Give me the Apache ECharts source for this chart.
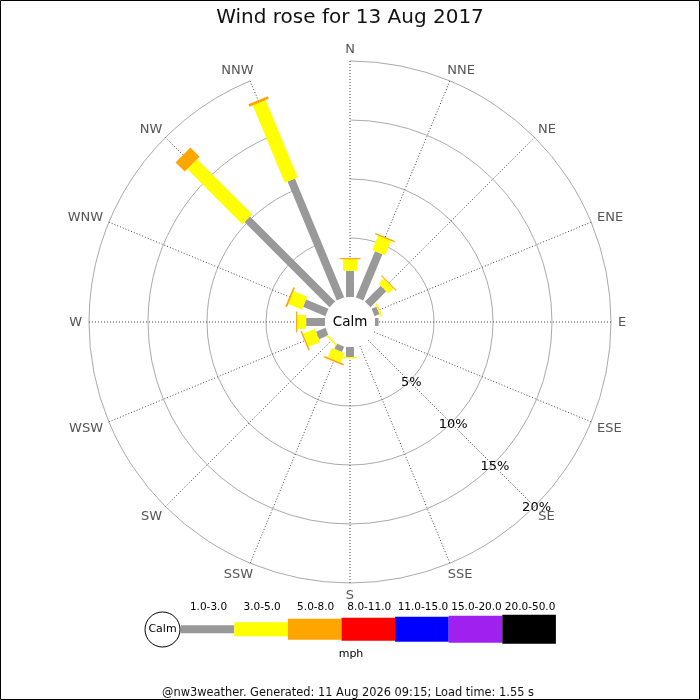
<!DOCTYPE html>
<html><head><meta charset="utf-8">
<script src="https://cdn.jsdelivr.net/npm/echarts@6/dist/echarts.min.js"></script>
<style>html,body{margin:0;padding:0;background:#fff}#c{width:700px;height:700px}</style>
</head><body><div id="c"></div>
<script>
// ---- data ----
const directions = ['N','NNE','NE','ENE','E','ESE','SE','SSE','S','SSW','SW','WSW','W','WNW','NW','NNW'];
const speedBins = ['1.0-3.0','3.0-5.0','5.0-8.0','8.0-11.0','11.0-15.0','15.0-20.0','20.0-50.0'];
// percentage of time per direction, per speed bin (mph)
const pct1to3 = [2.23, 4.24, 1.90, 0.45, 0.30, 0, 0, 0, 0.85, 0.50, 0, 0.86, 1.60, 2.05, 10.20, 10.90];
const pct3to5 = [0.97, 1.33, 0.60, 0.15, 0, 0, 0, 0, 0.12, 0.86, 0.15, 1.08, 0.75, 1.25, 6.60, 7.10];
const pct5to8 = [0.10, 0.10, 0.08, 0, 0, 0, 0, 0, 0, 0.15, 0, 0.12, 0.10, 0.15, 1.10, 0.22];
const ringTicks = [5, 10, 15, 20];
const ringLabels = ['5%', '10%', '15%', '20%'];
const titleText = 'Wind rose for 13 Aug 2017';
const footerText = '@nw3weather. Generated: 11 Aug 2026 09:15; Load time: 1.55 s';
const unitText = 'mph';
const calmText = 'Calm';

// ---- styles ----
const binColors = ['#999999', '#ffff00', '#ffa500', '#ff0000', '#0000ff', '#a020f0', '#000000'];
const binWidths = [8, 14, 21, 23, 25, 27, 29];
const FONT = '"DejaVu Sans", "Noto Sans", sans-serif';
const CX = 350, CY = 322;
const RMAX = 20;

const seriesValues = [pct1to3, pct3to5, pct5to8];

const measureCtx = document.createElement('canvas').getContext('2d');
function textWidth(t, font) { measureCtx.font = font; return measureCtx.measureText(t).width; }

// build stacked [dirIndex, start, end] rows
const cum = directions.map(() => 0);
const barSeries = seriesValues.map((vals, k) => {
  const rows = vals.map((v, i) => {
    const row = [i, cum[i], cum[i] + v];
    cum[i] += v;
    return row;
  });
  return {
    type: 'custom',
    name: speedBins[k],
    coordinateSystem: 'polar',
    data: rows,
    encode: { angle: 0, radius: 2 },
    z: 3 + k,
    renderItem: (params, api) => {
      const di = api.value(0), a = api.value(1), b = api.value(2);
      if (!(b > a)) return null;
      const p0 = api.coord([a, di]), p1 = api.coord([b, di]);
      const q0 = api.coord([0, di]), q1 = api.coord([RMAX, di]);
      const L = Math.hypot(q1[0] - q0[0], q1[1] - q0[1]);
      const ux = (q1[0] - q0[0]) / L, uy = (q1[1] - q0[1]) / L;
      const h = binWidths[k] / 2, nx = -uy * h, ny = ux * h;
      return {
        type: 'polygon',
        shape: { points: [[p0[0] + nx, p0[1] + ny], [p1[0] + nx, p1[1] + ny], [p1[0] - nx, p1[1] - ny], [p0[0] - nx, p0[1] - ny]] },
        style: { fill: binColors[k] }
      };
    }
  };
});

// direction labels placed outside the outer ring
const DIR_FONT = '13px ' + FONT;
const sgn = v => (Math.abs(v) < 1e-6 ? 0 : Math.sign(v));
const dirLabelSeries = {
  type: 'custom',
  coordinateSystem: 'polar',
  data: directions.map((d, i) => [i, RMAX]),
  encode: { angle: 0, radius: 1 },
  z: 9,
  renderItem: (params, api) => {
    const di = api.value(0);
    const q0 = api.coord([0, di]), q1 = api.coord([api.value(1), di]);
    const L = Math.hypot(q1[0] - q0[0], q1[1] - q0[1]);
    const ux = (q1[0] - q0[0]) / L, uy = (q1[1] - q0[1]) / L;
    const t = directions[params.dataIndex];
    const w = textWidth(t, DIR_FONT), h = 9.4, m = 7;
    const x = q1[0] + ux * m + sgn(ux) * Math.sqrt(Math.abs(ux)) * w / 2;
    const y = q1[1] + uy * m + sgn(uy) * Math.sqrt(Math.abs(uy)) * h / 2 + 0.8;
    return {
      type: 'text', x: x, y: y,
      style: { text: t, fill: '#555', font: DIR_FONT, align: 'center', verticalAlign: 'middle' }
    };
  }
};

const seIdx = directions.indexOf('SE');
const ringLabelSeries = {
  type: 'custom',
  coordinateSystem: 'polar',
  data: ringTicks.map(v => [seIdx, v]),
  encode: { angle: 0, radius: 1 },
  z: 10,
  renderItem: (params, api) => {
    const p = api.coord([api.value(1), api.value(0)]);
    return {
      type: 'text', x: p[0] + 2, y: p[1] + 1.5,
      style: { text: ringLabels[params.dataIndex], fill: '#000', font: '13px ' + FONT, align: 'center', verticalAlign: 'middle' }
    };
  }
};

// legend graphics
const legendEls = [];
const segW = 53.6, legendX0 = 180.7, legendCy = 629.3;
speedBins.forEach((lab, i) => {
  const x = legendX0 + i * segW, h = binWidths[i];
  legendEls.push({ type: 'rect', shape: { x: x, y: legendCy - h / 2, width: segW, height: h }, style: { fill: binColors[i] } });
  legendEls.push({ type: 'text', x: x + segW / 2 + 1, y: 607, style: { text: lab, font: '10.5px ' + FONT, fill: '#000', align: 'center', verticalAlign: 'middle' } });
});
legendEls.push({ type: 'circle', shape: { cx: 162.5, cy: 629.5, r: 17.5 }, style: { fill: '#fff', stroke: '#000', lineWidth: 1 } });
legendEls.push({ type: 'text', x: 162.5, y: 629.5, style: { text: calmText, font: '11px ' + FONT, fill: '#000', align: 'center', verticalAlign: 'middle' } });
legendEls.push({ type: 'text', x: 351, y: 654, style: { text: unitText, font: '11px ' + FONT, fill: '#000', align: 'center', verticalAlign: 'middle' } });

const chart = echarts.init(document.getElementById('c'), null, { renderer: 'canvas' });
chart.setOption({
  animation: false,
  backgroundColor: '#fff',
  polar: { center: [CX, CY], radius: [25, 261] },
  angleAxis: {
    type: 'category',
    data: directions,
    boundaryGap: false,
    startAngle: 90,
    clockwise: true,
    axisLine: { show: false },
    axisTick: { show: false },
    axisLabel: { show: false },
    splitLine: { show: true, lineStyle: { color: '#444', width: 1, type: [1, 2] } }
  },
  radiusAxis: {
    type: 'value',
    min: 0, max: RMAX, interval: 5,
    axisLine: { show: false },
    axisTick: { show: false },
    axisLabel: { show: false },
    splitLine: { show: true, lineStyle: { color: ['rgba(0,0,0,0)', '#aaa', '#aaa', '#aaa', '#aaa'], width: 1 } }
  },
  graphic: [
    { type: 'rect', shape: { x: 0.5, y: 0.5, width: 699, height: 699 }, style: { fill: null, stroke: '#000', lineWidth: 1 }, z: 100 },
    { type: 'text', x: 350, y: 18, style: { text: titleText, font: '20px ' + FONT, fill: '#111', align: 'center', verticalAlign: 'middle' } },
    { type: 'text', x: CX, y: CY + 0.5, style: { text: calmText, font: '13.5px ' + FONT, fill: '#000', align: 'center', verticalAlign: 'middle' }, z: 100 },
    { type: 'text', x: 348, y: 693, style: { text: footerText, font: '11.4px ' + FONT, fill: '#111', align: 'center', verticalAlign: 'middle' } },
    ...legendEls
  ],
  series: [...barSeries, dirLabelSeries, ringLabelSeries]
});
</script></body></html>
